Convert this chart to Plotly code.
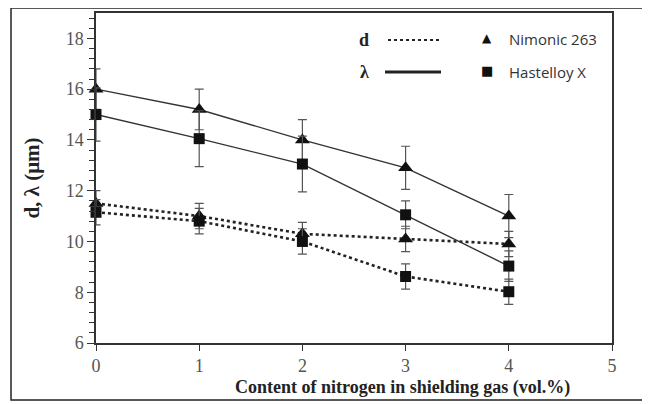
import plotly.graph_objects as go

nitrogen = [0, 1, 2, 3, 4]
nimonic_lambda = [16.0, 15.2, 14.0, 12.9, 11.0]
nimonic_lambda_err = [0.8, 0.8, 0.8, 0.85, 0.85]
hastelloy_lambda = [15.0, 14.05, 13.05, 11.05, 9.03]
hastelloy_lambda_err = [1.05, 1.1, 1.1, 0.55, 0.6]
nimonic_d = [11.5, 11.0, 10.3, 10.1, 9.9]
nimonic_d_err = [0.5, 0.5, 0.45, 0.5, 0.5]
hastelloy_d = [11.15, 10.8, 10.0, 8.62, 8.02]
hastelloy_d_err = [0.5, 0.5, 0.5, 0.5, 0.5]

x_ticks = [0, 1, 2, 3, 4, 5]
y_ticks = [6, 8, 10, 12, 14, 16, 18]

SERIF = "Liberation Serif, Times New Roman, serif"
SANS = "Open Sans, Noto Sans, sans-serif"

fig = go.Figure()

def add(yvals, err, dash, symbol, size, width, color):
    fig.add_trace(go.Scatter(
        x=nitrogen, y=yvals, mode="lines+markers", cliponaxis=False,
        line=dict(color=color, width=width, dash=dash),
        marker=dict(symbol=symbol, size=size, color="#111111"),
        error_y=dict(type="data", array=err, visible=True, color="#555555",
                     thickness=1.2, width=4.5),
        showlegend=False))

add(nimonic_d, nimonic_d_err, "dot", "triangle-up", 13, 2.6, "#222222")
add(hastelloy_d, hastelloy_d_err, "dot", "square", 11, 2.6, "#222222")
add(nimonic_lambda, nimonic_lambda_err, "solid", "triangle-up", 13, 1.4, "#333333")
add(hastelloy_lambda, hastelloy_lambda_err, "solid", "square", 11, 1.4, "#333333")

# outer frame
fig.add_shape(type="rect", xref="paper", yref="paper",
              x0=-0.1647, x1=1.0678, y0=-0.1727, y1=1.0152,
              line=dict(color="#222222", width=1.5), layer="below")

# legend (custom), positions relative to plot area
def px_x(p):
    return (p - 96) / 516
def px_y(p):
    return (343 - p) / 330

def note(x, y, text, font, xanchor="center"):
    fig.add_annotation(x=px_x(x), y=px_y(y), xref="paper", yref="paper", text=text,
                       xanchor=xanchor, yanchor="middle", showarrow=False, font=font)

note(364, 40, "<b>d</b>", dict(family=SERIF, size=18, color="#222"))
note(364, 72, "<b>λ</b>", dict(family=SERIF, size=18, color="#222"))
fig.add_shape(type="line", xref="paper", yref="paper", x0=px_x(388), x1=px_x(440),
              y0=px_y(40), y1=px_y(40), line=dict(color="#222", width=2.2, dash="dot"))
fig.add_shape(type="line", xref="paper", yref="paper", x0=px_x(385), x1=px_x(441),
              y0=px_y(72), y1=px_y(72), line=dict(color="#222", width=3.2))
note(487, 38, "▲", dict(family="DejaVu Sans", size=12, color="#111"))
note(487, 70, "■", dict(family="DejaVu Sans", size=13, color="#111"))
note(507, 39, "Nimonic 263", dict(family=SANS, size=15, color="#333"), xanchor="left")
note(507, 72, "Hastelloy X", dict(family=SANS, size=15, color="#333"), xanchor="left")

# x axis title placed as in the reference (offset to the right)
note(402, 388, "<b>Content of nitrogen in shielding gas (vol.%)</b>",
     dict(family=SERIF, size=18, color="#222"))

fig.update_layout(
    width=642, height=396,
    margin=dict(l=88, r=38, t=5, b=61, autoexpand=False),
    paper_bgcolor="white", plot_bgcolor="white",
    font=dict(family=SERIF, color="#333333"),
    xaxis=dict(range=[0, 5], tickvals=x_ticks, ticks="outside", ticklen=6,
               tickcolor="#333", showgrid=False, zeroline=False,
               showline=True, linecolor="#333", linewidth=1.5, mirror=True,
               tickfont=dict(family=SERIF, size=18, color="#555")),
    yaxis=dict(range=[6, 19], tickvals=y_ticks, ticks="outside", ticklen=7,
               tickcolor="#333", showgrid=False, zeroline=False,
               showline=True, linecolor="#333", linewidth=1.5, mirror=True,
               minor=dict(dtick=0.4, tick0=6, ticks="outside", ticklen=5, tickcolor="#333"),
               tickfont=dict(family=SERIF, size=18, color="#555"),
               title=dict(text="<b>d, λ (μm)</b>",
                          font=dict(family=SERIF, size=21, color="#222"), standoff=20)),
)

fig.write_html("out.html")
